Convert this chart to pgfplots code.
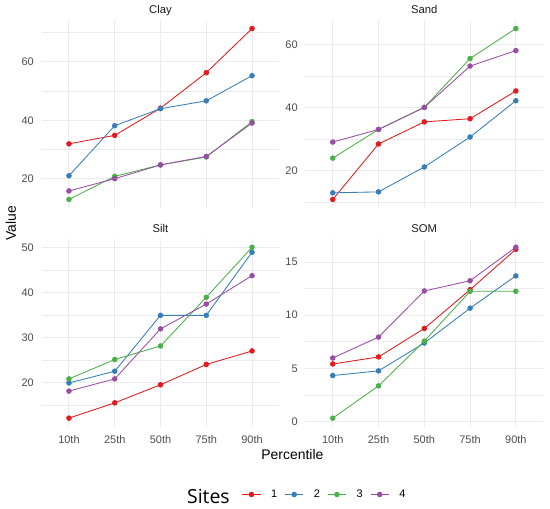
\documentclass[border=0pt]{standalone}
\usepackage{fontspec}
\setmainfont{Liberation Sans}
\newfontfamily\titlefont{Open Sans}
\usepackage{pgfplots}
\usepackage{pgfplotstable}
\pgfplotsset{compat=1.18}
\definecolor{c1}{HTML}{E41A1C}
\definecolor{c2}{HTML}{377EB8}
\definecolor{c3}{HTML}{4DAF4A}
\definecolor{c4}{HTML}{984EA3}
\definecolor{gridc}{HTML}{EBEBEB}
\definecolor{tickc}{HTML}{4D4D4D}
\definecolor{stripc}{HTML}{1A1A1A}

\pgfplotstableread{
x s1 s2 s3 s4
0 32.0 21.1 13.0 15.9
1 34.9 38.2 20.9 20.1
2 44.2 44.0 24.8 24.8
3 56.3 46.7 27.5 27.7
4 71.4 55.3 39.6 39.1
}\clay
\pgfplotstableread{
x s1 s2 s3 s4
0 10.8 12.9 23.9 29.0
1 28.4 13.2 33.0 33.0
2 35.4 21.1 40.0 40.0
3 36.4 30.6 55.5 53.1
4 45.2 42.1 65.0 58.0
}\sand
\pgfplotstableread{
x s1 s2 s3 s4
0 12.2 20.0 20.9 18.2
1 15.6 22.6 25.2 20.9
2 19.6 35.0 28.2 32.0
3 24.1 35.0 39.0 37.5
4 27.1 49.0 50.1 43.8
}\silt
\pgfplotstableread{
x s1 s2 s3 s4
0 5.41 4.32 0.31 5.97
1 6.07 4.76 3.35 7.94
2 8.75 7.38 7.56 12.28
3 12.4 10.66 12.25 13.24
4 16.2 13.7 12.25 16.4
}\som

\pgfplotsset{
  panel/.style={
    scale only axis, width=238bp, height=188bp, anchor=south west,
    xmin=-0.6, xmax=4.6,
    xtick={0,1,2,3,4},
    axis line style={draw=none},
    major tick length=0pt, minor tick length=0pt,
    grid=both,
    major grid style={draw=gridc, line width=1bp},
    minor grid style={draw=gridc, line width=0.55bp},
    /pgf/number format/assume math mode=true,
    ticklabel style={font=\fontsize{11}{13}\selectfont, text=tickc, inner sep=0pt},
    yticklabel style={xshift=-7.5bp},
    xticklabel style={yshift=-9bp},
    every axis title/.style={at={(0.5,1)}, anchor=base, yshift=6.6bp, inner sep=0pt,
      font=\fontsize{11.3}{13}\selectfont, text=stripc},
  },
  s1/.style={color=c1, line width=0.85bp},
  s2/.style={color=c2, line width=0.85bp},
  s3/.style={color=c3, line width=0.85bp},
  s4/.style={color=c4, line width=0.85bp},
  dots/.style={only marks, mark=*, mark size=2.3bp, mark options={draw=none}},
}

\newcommand{\series}[1]{%
  \addplot[s1, mark=none, forget plot] table[x=x,y=s1]{#1};
  \addplot[s2, mark=none, forget plot] table[x=x,y=s2]{#1};
  \addplot[s3, mark=none, forget plot] table[x=x,y=s3]{#1};
  \addplot[s4, mark=none, forget plot] table[x=x,y=s4]{#1};
  \addplot[s1, dots, forget plot] table[x=x,y=s1]{#1};
  \addplot[s2, dots, forget plot] table[x=x,y=s2]{#1};
  \addplot[s3, dots, forget plot] table[x=x,y=s3]{#1};
  \addplot[s4, dots, forget plot] table[x=x,y=s4]{#1};
}

\begin{document}
\begin{tikzpicture}
\useasboundingbox[fill=white] (0,0) rectangle (550bp,509bp);

\begin{axis}[panel, at={(41.5bp,301bp)}, title={Clay},
  ymin=10.08, ymax=74.32, ytick={20,40,60}, minor ytick={10,30,50,70},
  xticklabels={}]
\series{\clay}
\end{axis}

\begin{axis}[panel, at={(305.3bp,301bp)}, title={Sand},
  ymin=8.09, ymax=67.71, ytick={20,40,60}, minor ytick={10,30,50},
  xticklabels={}]
\series{\sand}
\end{axis}

\begin{axis}[panel, at={(41.5bp,82.3bp)}, title={Silt},
  ymin=10.3, ymax=52.0, ytick={20,30,40,50}, minor ytick={15,25,35,45},
  xticklabels={10th,25th,50th,75th,90th},
  legend image code/.code={\draw[mark repeat=2,mark phase=2,#1] plot coordinates {(0bp,0bp) (9.15bp,0bp) (18.3bp,0bp)};},
  legend style={at={(0.8412,-0.3606)}, anchor=west, draw=none, fill=none,
    inner sep=0pt, legend columns=4,
    nodes={inner sep=0pt, font=\fontsize{11}{13}\selectfont, text=black},
    /tikz/every odd column/.append style={column sep=10bp},
    /tikz/every even column/.append style={column sep=7.5bp}}]
\series{\silt}
\addlegendimage{s1, mark=*, mark size=2.3bp, mark options={draw=none}}
\addlegendentry{1}
\addlegendimage{s2, mark=*, mark size=2.3bp, mark options={draw=none}}
\addlegendentry{2}
\addlegendimage{s3, mark=*, mark size=2.3bp, mark options={draw=none}}
\addlegendentry{3}
\addlegendimage{s4, mark=*, mark size=2.3bp, mark options={draw=none}}
\addlegendentry{4}
\end{axis}

\begin{axis}[panel, at={(305.3bp,82.3bp)}, title={SOM},
  ymin=-0.495, ymax=17.2, ytick={0,5,10,15}, minor ytick={2.5,7.5,12.5},
  xticklabels={10th,25th,50th,75th,90th}]
\series{\som}
\end{axis}

\node[inner sep=0pt, font=\fontsize{14}{16}\selectfont] at (292.4bp,54bp) {Percentile};
\node[inner sep=0pt, rotate=90, font=\fontsize{14}{16}\selectfont] at (11bp,285.6bp) {Value};
\node[inner sep=0pt, font=\titlefont\fontsize{19.5}{22}\selectfont] at (208.4bp,12.3bp) {Sites};
\end{tikzpicture}
\end{document}
